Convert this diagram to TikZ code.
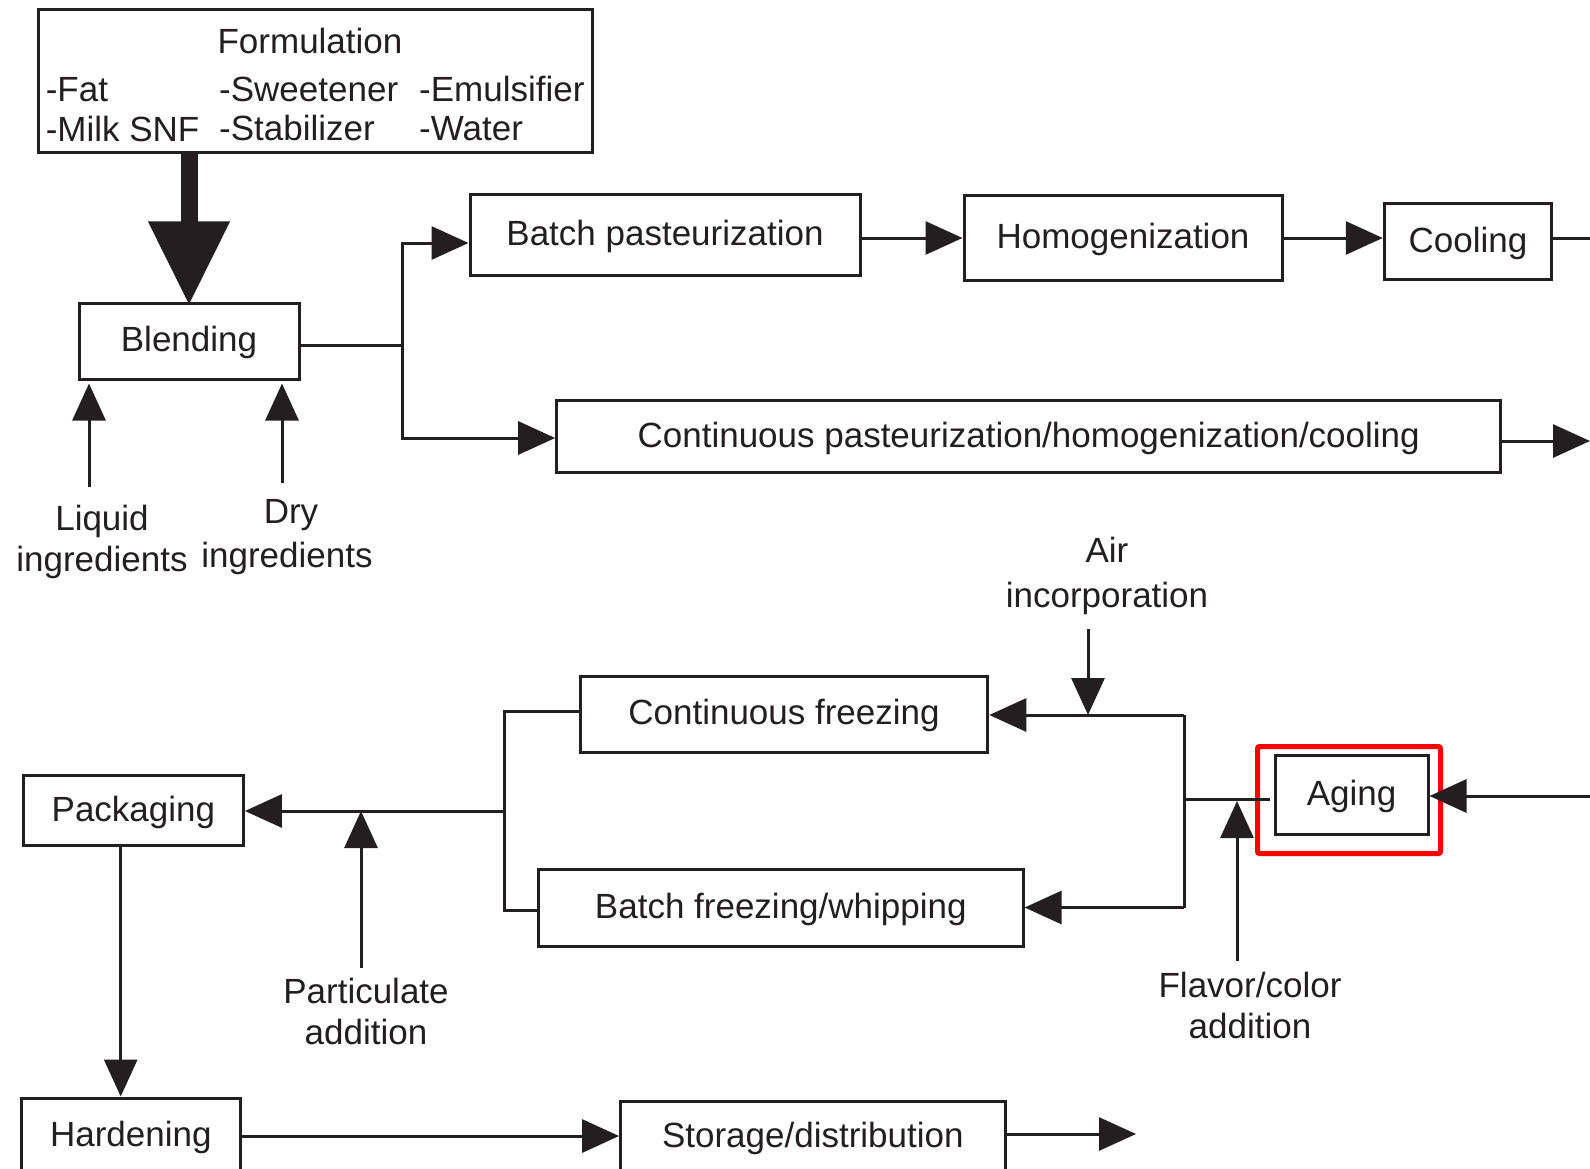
\documentclass[tikz,border=0pt]{standalone}
\usepackage{fontspec}
\setmainfont{Liberation Sans}
\usetikzlibrary{arrows.meta}
\definecolor{ink}{HTML}{231F20}
\newcommand\figfont{\fontsize{35}{41}\selectfont}
\tikzset{
  box/.style={draw=ink, line width=3pt, inner sep=0pt, text=ink, font=\figfont, text height=27pt, text depth=6pt},
  ln/.style={draw=ink, line width=3pt},
  arr/.style={draw=ink, line width=3pt, -{Triangle[length=37pt,width=33pt]}},
  lab/.style={text=ink, font=\figfont, align=center, inner sep=0pt},
  ftxt/.style={text=ink, font=\figfont, inner sep=0pt, anchor=base west},
}
\begin{document}
\begin{tikzpicture}[x=1pt, y=-1pt]
\useasboundingbox (0,0) rectangle (1590,1169);
\fill[white] (0,0) rectangle (1590,1169);
\clip (0,0) rectangle (1590,1169);

% Formulation
\node[box, minimum width=553.5pt, minimum height=143pt] (form) at (315.3,81.5) {};
\node[ftxt, anchor=base] (ftitle) at (310,54) {Formulation};
\node[ftxt] (f1) at (45.6,102) {-Fat};
\node[ftxt] (f2) at (45.6,141.5) {-Milk SNF};
\node[ftxt] (f3) at (219,101.5) {-Sweetener};
\node[ftxt] (f4) at (219,141) {-Stabilizer};
\node[ftxt] (f5) at (419,101.5) {-Emulsifier};
\node[ftxt] (f6) at (419,141) {-Water};

% boxes
\node[box, minimum width=220pt, minimum height=76pt] (blend) at (189,341) {Blending};
\node[box, minimum width=390pt, minimum height=81pt] (batchp) at (665,235) {Batch pasteurization};
\node[box, minimum width=318pt, minimum height=84pt] (homog) at (1123,238) {Homogenization};
\node[box, minimum width=167.5pt, minimum height=75pt] (cool) at (1468,241.5) {Cooling};
\node[box, minimum width=944pt, minimum height=72pt] (contp) at (1028.7,436.5) {Continuous pasteurization/homogenization/cooling};
\node[box, minimum width=407.6pt, minimum height=76pt] (cfreeze) at (784,714) {Continuous freezing};
\node[box, minimum width=153pt, minimum height=79pt] (aging) at (1351.5,794.5) {Aging};
\node[box, minimum width=484.6pt, minimum height=77pt] (bfreeze) at (780.8,907.5) {Batch freezing/whipping};
\node[box, minimum width=220pt, minimum height=70pt] (pack) at (133.4,810.7) {Packaging};
\node[box, minimum width=219pt, minimum height=76pt] (hard) at (130.8,1136) {Hardening};
\node[box, minimum width=384.4pt, minimum height=72pt] (stor) at (812.8,1137) {Storage/distribution};

% red highlight
\draw[red, line width=5pt, rounded corners=2pt] ([xshift=-16pt,yshift=7pt]aging.north west) rectangle ([xshift=11pt,yshift=-18pt]aging.south east);

% labels
\node[lab] (liqlab) at (102,541.5) {Liquid\\ingredients};
\node[lab] (drylab) at (287,537) {\hspace*{8pt}Dry\\[3pt]ingredients};
\node[lab] (airlab) at (1107,575.5) {Air\\[4pt]incorporation};
\node[lab] (partlab) at (366,1011) {Particulate\\addition};
\node[lab] (flavlab) at (1250,1005) {Flavor/color\\addition};

% thick arrow
\draw[draw=ink, line width=17pt, shorten >=-4pt, -{Triangle[length=84pt,width=77pt]}] (blend.north |- form.south) -- (blend.north);

% ingredient arrows
\coordinate (liqS) at (89,487);
\coordinate (dryS) at (282,483);
\draw[arr, shorten >=3pt] (liqS) -- (liqS |- blend.south);
\draw[arr, shorten >=3pt] (dryS) -- (dryS |- blend.south);

% split after blending
\coordinate (jm) at (402.6,345);
\coordinate (jtop) at (402.6,243);
\coordinate (jbot) at (402.6,438);
\draw[ln] (jm -| blend.east) -- (jm);
\draw[arr] (jm) -- (jtop) -- (jtop -| batchp.west);
\draw[arr] (jm) -- (jbot) -- (jbot -| contp.west);

% top row
\draw[arr] (batchp.east |- homog.west) -- (homog.west);
\draw[arr] (homog.east) -- (homog.east -| cool.west);
\coordinate (edge1) at (1590,238);
\draw[ln] (cool.east |- edge1) -- (edge1);
\coordinate (edge2) at (1590,441);
\draw[arr] (contp.east |- edge2) -- (edge2);

% aging input
\coordinate (edge3) at (1590,796);
\draw[arr] (edge3) -- (aging.east |- edge3);

% aging output split
\coordinate (rt) at (1184,715);
\coordinate (rm) at (1184,799);
\coordinate (rb) at (1184,907.5);
\draw[ln, shorten >=4pt] (rm) -- (rm -| aging.west);
\draw[ln] (rt) -- (rb);
\draw[arr] (rt) -- (rt -| cfreeze.east);
\draw[arr] (rb) -- (rb -| bfreeze.east);

% air
\coordinate (airS) at (1088,629);
\draw[arr] (airS) -- (airS |- rt);
% flavor
\coordinate (flS) at (1237,961);
\draw[arr, shorten >=2pt] (flS) -- (flS |- rm);

% merge to packaging
\coordinate (lt) at (504,711);
\coordinate (lm) at (504,811);
\coordinate (lb) at (504,910.6);
\draw[ln] (lt -| cfreeze.west) -- (lt) -- (lb) -- (lb -| bfreeze.west);
\draw[arr] (lm) -- (lm -| pack.east);
\coordinate (paS) at (361,968);
\draw[arr] (paS) -- (paS |- lm);

% packaging -> hardening -> storage
\coordinate (hv) at (120.7,950);
\draw[arr] (pack.south -| hv) -- (hard.north -| hv);
\coordinate (hs) at (0,1136);
\draw[arr] (hard.east |- hs) -- (stor.west |- hs);
\coordinate (sEnd) at (1136,1134);
\draw[arr] (stor.east |- sEnd) -- (sEnd);
\end{tikzpicture}
\end{document}
